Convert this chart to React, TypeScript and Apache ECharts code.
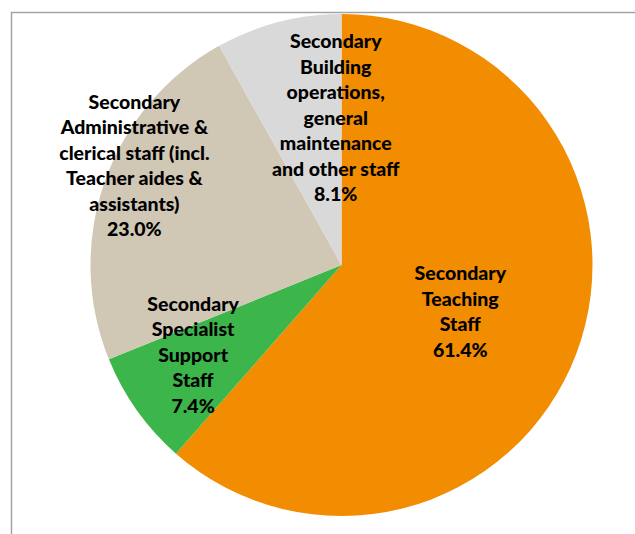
import React, { useEffect, useRef } from "react";
import * as echarts from "echarts";

const categories = [
  "Secondary\nTeaching\nStaff",
  "Secondary\nSpecialist\nSupport\nStaff",
  "Secondary\nAdministrative &\nclerical staff (incl.\nTeacher aides &\nassistants)",
  "Secondary\nBuilding\noperations,\ngeneral\nmaintenance\nand other staff",
];
const values = [61.4, 7.4, 23.0, 8.1];
const colors = ["#F28C00", "#3CB54A", "#D1C7B5", "#D9D9D9"];
const labelOffsets = [
  [-1.5, 0.5],
  [-43.7, 15.0],
  [-85.9, -57.2],
  [26.6, -23.3],
];

export default function App() {
  const ref = useRef<HTMLDivElement>(null);
  useEffect(() => {
    if (!ref.current) return;
    const chart = echarts.init(ref.current, null, { renderer: "svg" });
    chart.setOption({
      animation: false,
      backgroundColor: "#ffffff",
      graphic: [
        {
          type: "rect",
          shape: { x: 11.5, y: 12.5, width: 700, height: 600 },
          style: { fill: "none", stroke: "#a3a3a3", lineWidth: 1.5 },
          z: 0,
        },
      ],
      series: [
        {
          type: "pie",
          center: [341.5, 265],
          radius: 251,
          startAngle: 90,
          clockwise: true,
          avoidLabelOverlap: false,
          itemStyle: { borderWidth: 0 },
          emphasis: { disabled: true },
          label: {
            show: true,
            position: "inside",
            color: "#000000",
            fontFamily: "Lato",
            fontWeight: 900,
            fontSize: 19.5,
            lineHeight: 25.5,
            align: "center",
            formatter: (p: any) => `${p.name}\n${p.value.toFixed(1)}%`,
          },
          labelLine: { show: false },
          data: categories.map((name, i) => ({
            name,
            value: values[i],
            itemStyle: { color: colors[i] },
            label: { offset: labelOffsets[i] },
          })),
        },
      ],
    });
    return () => chart.dispose();
  }, []);
  return (
    <div
      ref={ref}
      style={{ position: "fixed", left: 0, top: 0, width: 635, height: 534 }}
    />
  );
}
